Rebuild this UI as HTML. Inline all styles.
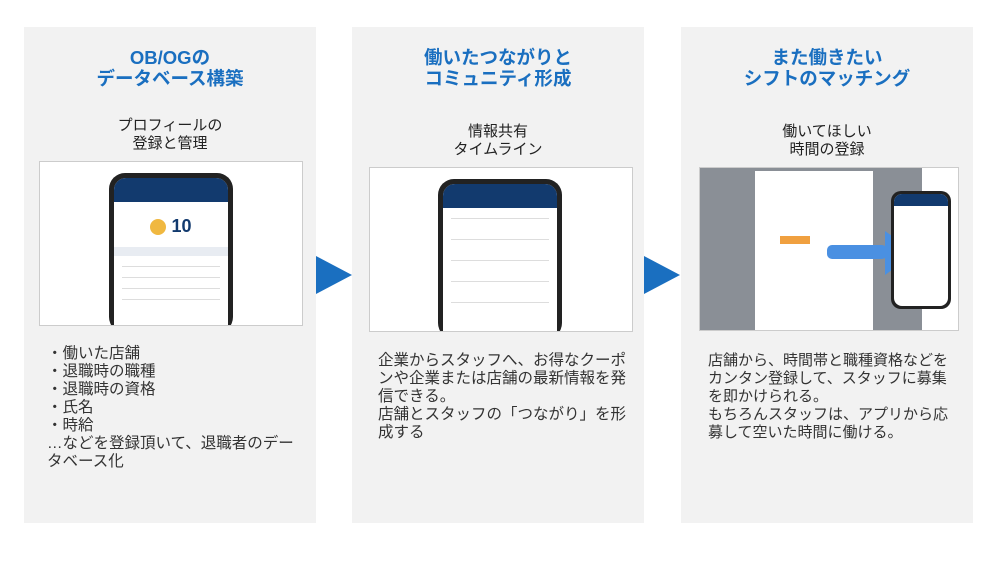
<!DOCTYPE html>
<html><head><meta charset="utf-8"><style>
body{margin:0;width:1000px;height:562px;background:#fff;position:relative;font-family:"Liberation Sans","Noto Sans CJK JP",sans-serif;overflow:hidden}
.p{position:absolute;top:27px;width:292px;height:496px;background:#f2f2f2}
.t{position:absolute;left:0;width:100%;text-align:center;color:#1a6fc0;font-weight:bold;font-size:18.5px;line-height:21px;top:20px}
.s{position:absolute;left:0;width:100%;text-align:center;color:#222;font-size:15px;line-height:18px}
.img{position:absolute;background:#fff;border:1px solid #ccc;overflow:hidden}
.b{position:absolute;color:#333;font-size:15.5px;line-height:18px}
.arr{position:absolute;width:0;height:0;border-top:19px solid transparent;border-bottom:19px solid transparent;border-left:36px solid #1a6fc0;top:256px}
.ph{position:absolute;background:#222;border-radius:16px}
.sc{position:absolute;left:5px;right:5px;top:5px;bottom:0;background:#fff;border-radius:12px 12px 0 0;overflow:hidden}
.hd{height:24px;background:#123a6e}
.row{height:1px;background:#ddd;margin:10px 8px}
</style></head><body>
<div class="p" style="left:24px">
 <div class="t">OB/OGの<br>データベース構築</div>
 <div class="s" style="top:90px">プロフィールの<br>登録と管理</div>
</div>
<div class="img" style="left:39px;top:161px;width:262px;height:163px">
 <div class="ph" style="left:69px;top:11px;width:124px;height:160px"><div class="sc"><div class="hd"></div>
 <div style="text-align:center;font-size:18px;font-weight:bold;color:#123a6e;margin-top:14px"><span style="display:inline-block;width:16px;height:16px;border-radius:50%;background:#f0b840;vertical-align:middle"></span> 10</div>
 <div style="background:#e8ecf2;height:9px;margin-top:10px"></div><div class="row"></div><div class="row"></div><div class="row"></div><div class="row"></div></div></div>
</div>
<div class="b" style="left:47px;top:345px;width:252px">・働いた店舗<br>・退職時の職種<br>・退職時の資格<br>・氏名<br>・時給<br>…などを登録頂いて、退職者のデータベース化</div>

<div class="arr" style="left:316px"></div>

<div class="p" style="left:352px">
 <div class="t">働いたつながりと<br>コミュニティ形成</div>
 <div class="s" style="top:96px">情報共有<br>タイムライン</div>
</div>
<div class="img" style="left:369px;top:167px;width:262px;height:163px">
 <div class="ph" style="left:68px;top:11px;width:124px;height:160px"><div class="sc"><div class="hd"></div>
 <div class="row"></div><div class="row" style="margin-top:20px"></div><div class="row" style="margin-top:20px"></div><div class="row" style="margin-top:20px"></div><div class="row" style="margin-top:20px"></div></div></div>
</div>
<div class="b" style="left:378px;top:352px;width:252px">企業からスタッフへ、お得なクーポンや企業または店舗の最新情報を発信できる。<br>店舗とスタッフの「つながり」を形成する</div>

<div class="arr" style="left:644px"></div>

<div class="p" style="left:681px">
 <div class="t">また働きたい<br>シフトのマッチング</div>
 <div class="s" style="top:96px">働いてほしい<br>時間の登録</div>
</div>
<div class="img" style="left:699px;top:167px;width:258px;height:162px">
 <div style="position:absolute;left:0;top:0;width:222px;height:162px;background:#8a8f96"></div>
 <div style="position:absolute;left:55px;top:3px;width:118px;height:162px;background:#fff"></div>
 <div style="position:absolute;left:80px;top:68px;width:30px;height:8px;background:#f0a040"></div>
 <div style="position:absolute;left:127px;top:77px;width:60px;height:14px;background:#4a90e2;border-radius:5px"></div>
 <div style="position:absolute;left:185px;top:63px;width:0;height:0;border-top:22px solid transparent;border-bottom:22px solid transparent;border-left:30px solid #4a90e2"></div>
 <div class="ph" style="left:191px;top:23px;width:60px;height:118px;border-radius:10px"><div class="sc" style="left:3px;right:3px;top:3px;bottom:3px;border-radius:8px"><div class="hd" style="height:12px"></div></div></div>
</div>
<div class="b" style="left:708px;top:352px;width:242px;font-size:15px">店舗から、時間帯と職種資格などをカンタン登録して、スタッフに募集を即かけられる。<br>もちろんスタッフは、アプリから応募して空いた時間に働ける。</div>
</body></html>
